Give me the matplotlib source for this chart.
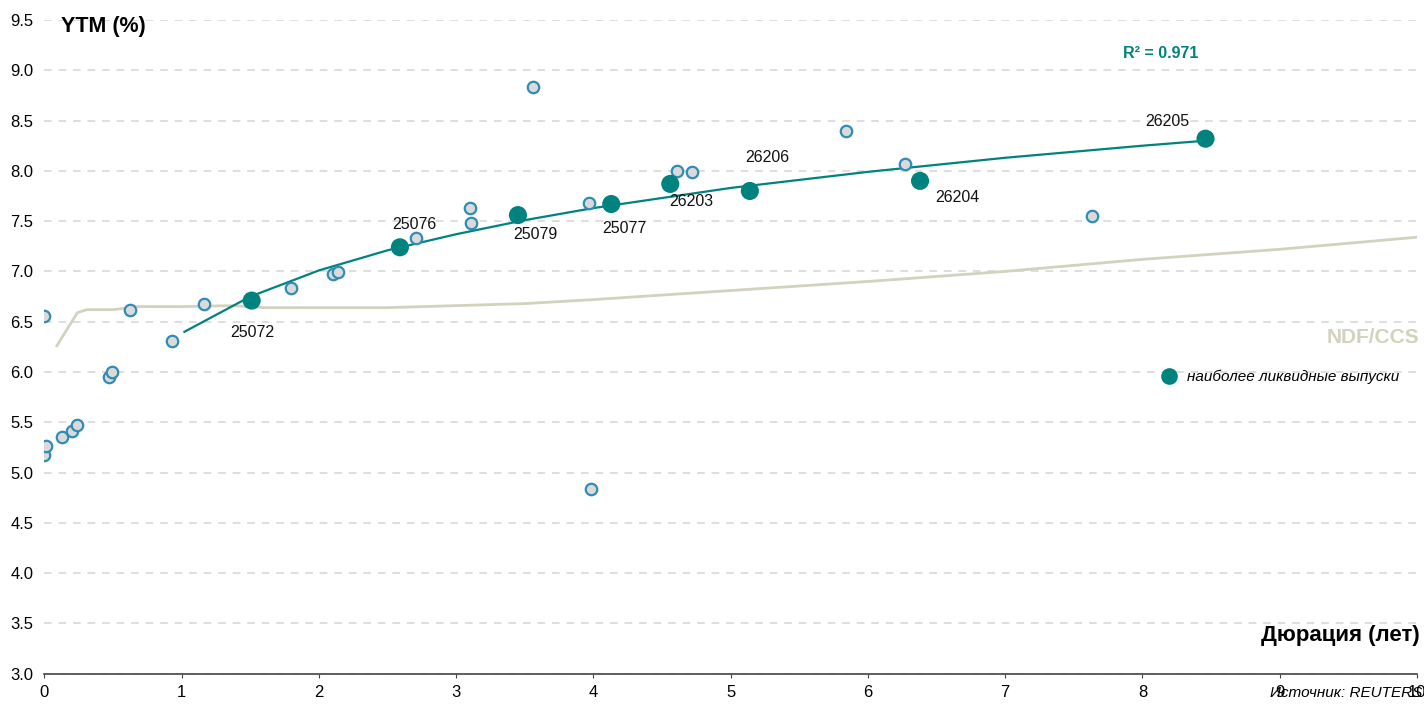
import matplotlib
matplotlib.use('Agg')
import matplotlib.pyplot as plt
from matplotlib.lines import Line2D

plt.rcParams['font.family'] = ['Liberation Sans', 'DejaVu Sans']

# all bonds (duration, YTM)
bond_dur = [0.0, 0.0, 0.01, 0.13, 0.20, 0.24, 0.47, 0.49, 0.62, 0.93, 1.16, 1.80,
            2.10, 2.14, 2.71, 3.10, 3.11, 3.56, 3.97, 3.98, 4.61, 4.72, 5.84, 6.27, 7.63]
bond_ytm = [6.56, 5.17, 5.26, 5.35, 5.41, 5.47, 5.95, 6.00, 6.62, 6.31, 6.68, 6.84,
            6.97, 6.99, 7.33, 7.63, 7.48, 8.83, 7.68, 4.84, 8.00, 7.99, 8.40, 8.07, 7.55]

# most liquid issues
liq_names = ['25072', '25076', '25079', '25077', '26203', '26206', '26204', '26205']
liq_dur = [1.51, 2.59, 3.45, 4.13, 4.56, 5.14, 6.38, 8.46]
liq_ytm = [6.71, 7.24, 7.56, 7.67, 7.87, 7.80, 7.90, 8.32]
liq_offsets = [(1, -32), (14, 23), (17, -19), (13, -24), (21, -18), (17, 33), (37, -17), (-38, 17)]

# trend line
fit_x = [1.02, 1.5, 2.0, 2.5, 3.0, 3.5, 4.0, 4.5, 5.0, 5.5, 6.0, 6.5, 7.0, 7.5, 8.0, 8.46]
fit_y = [6.40, 6.75, 7.01, 7.21, 7.37, 7.51, 7.63, 7.73, 7.83, 7.91, 7.99, 8.06, 8.13, 8.19, 8.25, 8.30]

# NDF/CCS curve
ndf_x = [0.09, 0.24, 0.31, 0.5, 0.68, 1.0, 1.37, 1.6, 2.0, 2.5, 3.0, 3.5, 4.0, 5.0, 6.0, 7.0, 8.0, 9.0, 10.0]
ndf_y = [6.26, 6.59, 6.62, 6.62, 6.65, 6.65, 6.66, 6.64, 6.64, 6.64, 6.66, 6.68, 6.72, 6.81, 6.90, 7.00, 7.12, 7.22, 7.34]

teal = '#00827e'
beige = '#d2d2bf'

fig = plt.figure(figsize=(14.24, 7.04), dpi=100)
ax = fig.add_axes([0.0312, 0.043, 0.9638, 0.9286])

ax.set_xlim(0, 10)
ax.set_ylim(3.0, 9.5)
ax.set_yticks([3.0 + 0.5 * i for i in range(14)])
ax.set_xticks(range(11))
ax.set_yticklabels(['%.1f' % (3.0 + 0.5 * i) for i in range(14)])
ax.grid(axis='y', color='#d4d4d4', linestyle=(0, (5, 4.5)), linewidth=1.1)
ax.set_axisbelow(True)
for s in ['left', 'right', 'top']:
    ax.spines[s].set_visible(False)
ax.spines['bottom'].set_color('#444444')
ax.spines['bottom'].set_linewidth(1.2)
ax.tick_params(axis='y', length=0, labelsize=12, pad=8)
ax.tick_params(axis='x', length=3, color='#444444', labelsize=12, pad=5)

ax.plot(ndf_x, ndf_y, color=beige, lw=2.0, zorder=2)
ax.plot(fit_x, fit_y, color=teal, lw=1.6, zorder=3)
ax.scatter(bond_dur, bond_ytm, s=68, facecolor='#dadada', edgecolor='#2f8cb4', linewidths=1.6, zorder=4)
liq = ax.scatter(liq_dur, liq_ytm, s=170, color=teal, edgecolor='none', zorder=5)

for name, x, y, off in zip(liq_names, liq_dur, liq_ytm, liq_offsets):
    ax.annotate(name, (x, y), xytext=off, textcoords='offset pixels',
                ha='center', va='center', fontsize=11.5, color='#111111')

ax.text(0.012, 0.99, 'YTM (%)', transform=ax.transAxes, fontsize=15.5, fontweight='bold',
        ha='left', va='center')
ax.text(1.002, 0.058, 'Дюрация (лет)', transform=ax.transAxes, fontsize=16, fontweight='bold',
        ha='right', va='center')
ax.text(0.813, 0.948, 'R² = 0.971', transform=ax.transAxes, fontsize=11.5, fontweight='bold',
        color=teal, ha='center', va='center')
ax.text(1.002, 0.514, 'NDF/CCS', transform=ax.transAxes, fontsize=15, fontweight='bold',
        color=beige, ha='right', va='center')

h = Line2D([], [], marker='o', linestyle='none', markersize=12, color=teal, markeredgecolor='none')
ax.legend([h], ['наиболее ликвидные выпуски'], loc='center left', bbox_to_anchor=(0.798, 0.454),
          frameon=False, handletextpad=0.2, prop={'size': 11, 'style': 'italic'})

fig.text(0.999, 0.016, 'Источник: REUTERS', ha='right', va='center', fontsize=11, style='italic')

fig.savefig('out.png', dpi=100)
